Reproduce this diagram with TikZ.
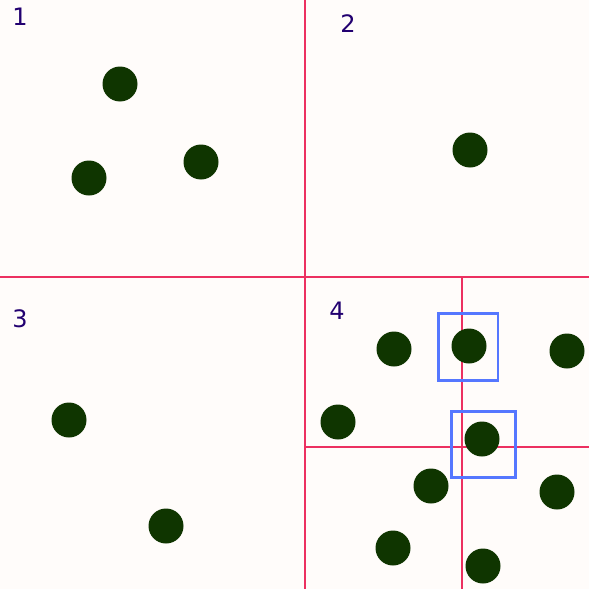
\documentclass[tikz,border=0pt]{standalone}
\usepackage{fontspec}
\setmainfont{DejaVu Sans}
\definecolor{bgc}{HTML}{FFFCFA}
\definecolor{redl}{HTML}{EC3060}
\definecolor{dotc}{HTML}{0F3500}
\definecolor{bluec}{HTML}{5577FF}
\definecolor{labc}{HTML}{220070}
\begin{document}
\begin{tikzpicture}[x=1pt,y=-1pt,
  dot/.style={circle,fill=dotc,minimum size=35pt,inner sep=0pt},
  split/.style={draw=redl,line width=2.2pt},
  hilite/.style={draw=bluec,line width=2.8pt},
  lab/.style={text=labc,font=\fontsize{24}{24}\selectfont,inner sep=0pt}]
\fill[bgc] (0,0) rectangle (589,589);
\useasboundingbox (0,0) rectangle (589,589);
% splitting lines
\coordinate (vt) at (305,0); \coordinate (vb) at (305,589);
\coordinate (hl) at (0,277); \coordinate (hr) at (589,277);
\coordinate (v2t) at (462,277); \coordinate (v2b) at (462,589);
\coordinate (h2l) at (305,447); \coordinate (h2r) at (589,447);
\draw[split] (vt) -- (vb);
\draw[split] (hl) -- (hr);
\draw[split] (v2t) -- (v2b);
\draw[split] (h2l) -- (h2r);
% labels
\node[lab] (l1) at (20,17) {1};
\node[lab] (l2) at (348,24) {2};
\node[lab] (l3) at (20,319) {3};
\node[lab] (l4) at (337,311) {4};
% points
\node[dot] (p1) at (120,84) {};
\node[dot] (p2) at (89,178) {};
\node[dot] (p3) at (201,162) {};
\node[dot] (p4) at (470,150) {};
\node[dot] (p5) at (69,420) {};
\node[dot] (p6) at (166,526) {};
\node[dot] (p7) at (394,349) {};
\node[dot] (p8) at (469,346) {};
\node[dot] (p9) at (567,351) {};
\node[dot] (p10) at (338,422) {};
\node[dot] (p11) at (482,439) {};
\node[dot] (p12) at (431,486) {};
\node[dot] (p13) at (557,492) {};
\node[dot] (p14) at (393,548) {};
\node[dot] (p15) at (483,566) {};
% highlight boxes
\draw[hilite] (438.5,313.5) rectangle (498,380.5);
\draw[hilite] (451.5,411.5) rectangle (515.5,477.5);
\end{tikzpicture}
\end{document}
